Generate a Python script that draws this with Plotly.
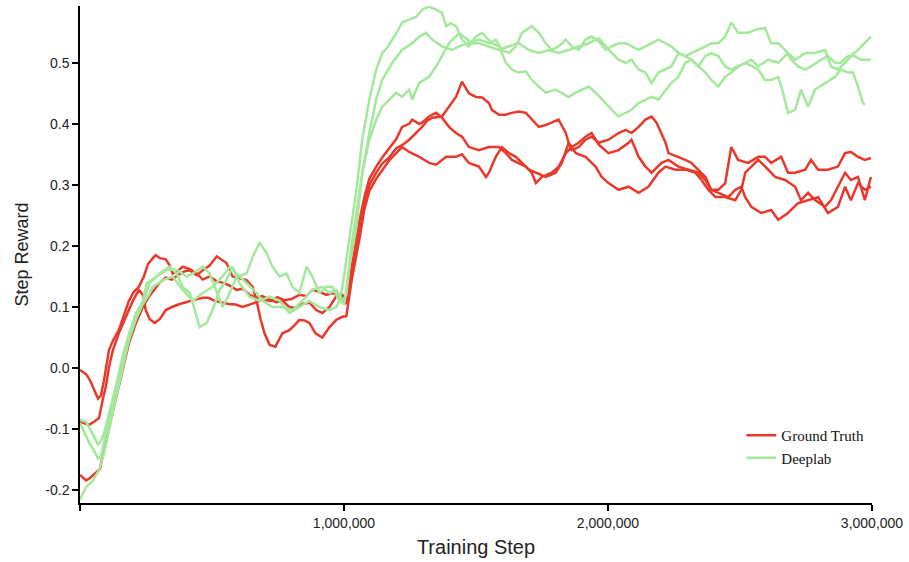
import plotly.graph_objects as go

# ---------------- data (training steps, step reward) ----------------
gt1_x = [0, 23000, 38000, 53000, 68000, 79000, 91000, 110000, 125000, 147000, 166000, 185000, 204000, 223000,
         242000, 257000, 276000, 287000, 302000, 325000, 340000, 351000, 366000, 389000, 416000, 442000, 465000,
         491000, 518000, 540000, 567000, 593000, 616000, 642000, 669000, 691000, 718000, 744000, 767000, 793000,
         820000, 842000, 869000, 895000, 918000, 945000, 971000, 994000, 1009000, 1031000, 1058000, 1077000,
         1096000, 1122000, 1145000, 1171000, 1198000, 1220000, 1247000, 1258000, 1285000, 1296000, 1322000,
         1349000, 1371000, 1398000, 1424000, 1447000, 1473000, 1511000, 1549000, 1587000, 1613000, 1636000,
         1662000, 1689000, 1711000, 1727000, 1749000, 1787000, 1813000, 1840000, 1863000, 1889000, 1915000,
         1938000, 1965000, 2002000, 2040000, 2078000, 2089000, 2116000, 2142000, 2165000, 2203000, 2229000,
         2267000, 2305000, 2342000, 2369000, 2391000, 2418000, 2444000, 2467000, 2493000, 2531000, 2569000,
         2595000, 2618000, 2656000, 2682000, 2709000, 2747000, 2769000, 2796000, 2833000, 2871000, 2898000,
         2920000, 2947000, 2973000, 2996000]
gt1_y = [-0.003, -0.010, -0.020, -0.035, -0.050, -0.045, -0.020, 0.030, 0.045, 0.062, 0.085, 0.110, 0.125, 0.133,
         0.150, 0.170, 0.180, 0.185, 0.180, 0.178, 0.168, 0.155, 0.158, 0.166, 0.162, 0.155, 0.145,
         0.150, 0.142, 0.140, 0.135, 0.128, 0.130, 0.120, 0.115, 0.118, 0.112, 0.108, 0.110, 0.100,
         0.098, 0.105, 0.107, 0.095, 0.090, 0.100, 0.118, 0.120, 0.105, 0.170, 0.240, 0.280,
         0.310, 0.330, 0.345, 0.360, 0.375, 0.395, 0.400, 0.407, 0.400, 0.402, 0.412,
         0.418, 0.410, 0.395, 0.385, 0.379, 0.362, 0.357, 0.362, 0.362, 0.352, 0.341,
         0.336, 0.330, 0.320, 0.303, 0.313, 0.320, 0.330, 0.352, 0.362, 0.369, 0.379,
         0.385, 0.366, 0.352, 0.357, 0.369, 0.374, 0.346, 0.330, 0.320, 0.336, 0.341,
         0.330, 0.325, 0.320, 0.308, 0.292, 0.292, 0.303, 0.362, 0.341, 0.336, 0.346,
         0.346, 0.336, 0.346, 0.320, 0.320, 0.325, 0.341, 0.325, 0.325, 0.330, 0.352,
         0.354, 0.346, 0.341, 0.344]

gt2_x = [0, 23000, 34000, 53000, 72000, 87000, 98000, 110000, 125000, 147000, 174000, 200000, 223000, 238000,
         249000, 264000, 283000, 302000, 325000, 348000, 378000, 400000, 434000, 465000, 487000, 510000, 536000,
         563000, 589000, 616000, 642000, 669000, 695000, 722000, 748000, 774000, 801000, 831000, 858000, 880000,
         907000, 933000, 956000, 982000, 1001000, 1020000, 1031000, 1058000, 1077000, 1096000, 1122000, 1145000,
         1171000, 1198000, 1220000, 1247000, 1273000, 1296000, 1315000, 1334000, 1371000, 1398000, 1424000,
         1447000, 1473000, 1500000, 1523000, 1549000, 1560000, 1587000, 1613000, 1636000, 1662000, 1689000,
         1711000, 1738000, 1764000, 1787000, 1813000, 1840000, 1851000, 1863000, 1889000, 1915000, 1938000,
         1965000, 2002000, 2040000, 2067000, 2089000, 2116000, 2142000, 2165000, 2184000, 2203000, 2218000,
         2229000, 2267000, 2293000, 2316000, 2342000, 2369000, 2391000, 2418000, 2456000, 2482000, 2505000,
         2520000, 2543000, 2580000, 2618000, 2645000, 2682000, 2720000, 2758000, 2796000, 2833000, 2871000,
         2898000, 2920000, 2947000, 2973000, 2996000]
gt2_y = [-0.088, -0.092, -0.093, -0.088, -0.082, -0.050, -0.030, 0.002, 0.030, 0.057, 0.084, 0.110, 0.128, 0.120,
         0.095, 0.080, 0.074, 0.080, 0.095, 0.100, 0.105, 0.108, 0.112, 0.115, 0.115, 0.110, 0.107,
         0.105, 0.104, 0.100, 0.104, 0.108, 0.112, 0.110, 0.116, 0.111, 0.113, 0.120, 0.118, 0.128,
         0.125, 0.120, 0.123, 0.118, 0.105, 0.130, 0.150, 0.220, 0.265, 0.300, 0.320, 0.335,
         0.345, 0.360, 0.365, 0.374, 0.385, 0.395, 0.405, 0.410, 0.412, 0.428, 0.444,
         0.469, 0.450, 0.444, 0.443, 0.434, 0.423, 0.415, 0.415, 0.418, 0.420, 0.418,
         0.407, 0.395, 0.398, 0.402, 0.407, 0.385, 0.369, 0.357, 0.362, 0.374, 0.379,
         0.369, 0.374, 0.385, 0.390, 0.385, 0.395, 0.407, 0.412, 0.402, 0.385, 0.369,
         0.352, 0.346, 0.341, 0.336, 0.325, 0.313, 0.292, 0.287, 0.280, 0.292, 0.297,
         0.280, 0.264, 0.254, 0.259, 0.243, 0.254, 0.270, 0.275, 0.280, 0.254, 0.264,
         0.297, 0.275, 0.303, 0.292, 0.297]

gt3_x = [0, 23000, 38000, 60000, 76000, 87000, 110000, 136000, 162000, 185000, 212000, 238000, 261000, 283000,
         302000, 325000, 348000, 370000, 393000, 416000, 442000, 465000, 491000, 518000, 536000, 555000, 578000,
         604000, 631000, 654000, 669000, 684000, 699000, 718000, 740000, 767000, 793000, 812000, 831000, 850000,
         869000, 892000, 918000, 945000, 971000, 994000, 1009000, 1031000, 1058000, 1077000, 1096000, 1122000,
         1145000, 1171000, 1198000, 1220000, 1247000, 1285000, 1322000, 1349000, 1387000, 1424000, 1447000,
         1473000, 1511000, 1538000, 1549000, 1575000, 1598000, 1625000, 1651000, 1674000, 1700000, 1727000,
         1764000, 1802000, 1825000, 1851000, 1878000, 1915000, 1953000, 1976000, 2002000, 2040000, 2078000,
         2116000, 2153000, 2191000, 2218000, 2255000, 2293000, 2331000, 2354000, 2380000, 2407000, 2444000,
         2482000, 2505000, 2520000, 2543000, 2569000, 2607000, 2633000, 2671000, 2709000, 2731000, 2758000,
         2784000, 2822000, 2845000, 2871000, 2898000, 2920000, 2947000, 2973000, 2996000]
gt3_y = [-0.175, -0.184, -0.180, -0.172, -0.165, -0.140, -0.097, -0.048, 0.002, 0.040, 0.074, 0.100, 0.117, 0.130,
         0.140, 0.148, 0.145, 0.152, 0.158, 0.160, 0.152, 0.160, 0.168, 0.183, 0.178, 0.172, 0.150,
         0.147, 0.144, 0.133, 0.110, 0.080, 0.057, 0.038, 0.035, 0.057, 0.062, 0.070, 0.079, 0.078,
         0.074, 0.057, 0.050, 0.067, 0.079, 0.084, 0.085, 0.150, 0.210, 0.260, 0.290, 0.310,
         0.325, 0.340, 0.352, 0.362, 0.354, 0.346, 0.336, 0.333, 0.346, 0.346, 0.350,
         0.336, 0.330, 0.313, 0.320, 0.346, 0.362, 0.352, 0.346, 0.336, 0.325, 0.320,
         0.313, 0.320, 0.336, 0.369, 0.352, 0.346, 0.330, 0.313, 0.303, 0.292, 0.297,
         0.287, 0.297, 0.320, 0.330, 0.325, 0.325, 0.320, 0.308, 0.292, 0.280, 0.280,
         0.275, 0.292, 0.320, 0.330, 0.341, 0.325, 0.313, 0.308, 0.297, 0.275, 0.287,
         0.275, 0.264, 0.275, 0.297, 0.320, 0.308, 0.313, 0.275, 0.313]

dl1_x = [0, 23000, 38000, 53000, 68000, 79000, 91000, 110000, 136000, 162000, 185000, 212000, 238000, 264000,
         302000, 340000, 366000, 389000, 416000, 442000, 453000, 480000, 502000, 529000, 555000, 578000, 604000,
         642000, 680000, 718000, 756000, 793000, 831000, 869000, 907000, 945000, 971000, 982000, 994000,
         1020000, 1047000, 1069000, 1096000, 1122000, 1145000, 1164000, 1183000, 1201000, 1220000, 1247000,
         1273000, 1296000, 1322000, 1349000, 1371000, 1387000, 1405000, 1424000, 1447000, 1473000, 1500000,
         1523000, 1560000, 1587000, 1613000, 1636000, 1662000, 1689000, 1711000, 1738000, 1764000, 1802000,
         1825000, 1851000, 1878000, 1900000, 1927000, 1953000, 1976000, 2002000, 2021000, 2040000, 2067000,
         2089000, 2116000, 2142000, 2165000, 2191000, 2218000, 2240000, 2267000, 2293000, 2316000, 2342000,
         2369000, 2391000, 2418000, 2444000, 2467000, 2493000, 2520000, 2543000, 2569000, 2595000, 2618000,
         2645000, 2663000, 2682000, 2709000, 2731000, 2758000, 2784000, 2822000, 2860000, 2882000, 2909000,
         2928000, 2947000, 2966000, 2973000]
dl1_y = [-0.085, -0.088, -0.100, -0.113, -0.125, -0.120, -0.107, -0.074, -0.030, 0.020, 0.055, 0.090, 0.108, 0.139,
         0.155, 0.166, 0.155, 0.133, 0.123, 0.084, 0.067, 0.074, 0.095, 0.128, 0.144, 0.166, 0.139,
         0.117, 0.110, 0.117, 0.110, 0.090, 0.100, 0.110, 0.100, 0.095, 0.100, 0.110, 0.133,
         0.210, 0.292, 0.374, 0.440, 0.489, 0.516, 0.525, 0.538, 0.550, 0.566, 0.570,
         0.575, 0.587, 0.592, 0.587, 0.582, 0.560, 0.565, 0.560, 0.538, 0.527, 0.543,
         0.549, 0.532, 0.527, 0.500, 0.489, 0.484, 0.486, 0.472, 0.461, 0.451, 0.456,
         0.451, 0.444, 0.451, 0.456, 0.461, 0.451, 0.440, 0.428, 0.420, 0.412, 0.418,
         0.423, 0.434, 0.440, 0.444, 0.440, 0.456, 0.467, 0.477, 0.500, 0.505, 0.494,
         0.511, 0.516, 0.511, 0.494, 0.489, 0.494, 0.500, 0.495, 0.489, 0.472, 0.472,
         0.477, 0.451, 0.418, 0.423, 0.456, 0.428, 0.456, 0.467, 0.477, 0.489, 0.484,
         0.484, 0.461, 0.434, 0.431]

dl2_x = [0, 23000, 38000, 53000, 68000, 79000, 91000, 110000, 136000, 162000, 185000, 212000, 238000, 253000,
         291000, 329000, 366000, 404000, 427000, 465000, 491000, 518000, 540000, 567000, 593000, 631000, 654000,
         680000, 706000, 729000, 756000, 782000, 805000, 831000, 858000, 880000, 907000, 933000, 956000, 982000,
         1001000, 1020000, 1047000, 1069000, 1096000, 1122000, 1145000, 1183000, 1220000, 1258000, 1285000,
         1311000, 1334000, 1371000, 1409000, 1436000, 1473000, 1511000, 1549000, 1575000, 1598000, 1625000,
         1651000, 1674000, 1711000, 1738000, 1764000, 1787000, 1813000, 1840000, 1863000, 1889000, 1915000,
         1938000, 1965000, 1991000, 2014000, 2040000, 2067000, 2089000, 2116000, 2142000, 2165000, 2191000,
         2218000, 2240000, 2267000, 2293000, 2316000, 2342000, 2369000, 2391000, 2418000, 2444000, 2467000,
         2493000, 2531000, 2558000, 2595000, 2618000, 2645000, 2671000, 2694000, 2720000, 2747000, 2769000,
         2807000, 2833000, 2860000, 2882000, 2909000, 2935000, 2958000, 2996000]
dl2_y = [-0.090, -0.110, -0.125, -0.135, -0.148, -0.145, -0.120, -0.085, -0.040, 0.010, 0.050, 0.085, 0.110, 0.139,
         0.150, 0.161, 0.161, 0.150, 0.155, 0.166, 0.155, 0.123, 0.100, 0.123, 0.150, 0.155, 0.182,
         0.205, 0.189, 0.166, 0.150, 0.155, 0.133, 0.123, 0.166, 0.150, 0.123, 0.133, 0.133, 0.110,
         0.105, 0.166, 0.231, 0.319, 0.385, 0.440, 0.472, 0.500, 0.521, 0.532, 0.543,
         0.549, 0.538, 0.527, 0.521, 0.527, 0.532, 0.538, 0.532, 0.538, 0.521, 0.516,
         0.527, 0.549, 0.560, 0.549, 0.532, 0.521, 0.527, 0.538, 0.527, 0.521, 0.538,
         0.543, 0.535, 0.521, 0.527, 0.532, 0.532, 0.527, 0.521, 0.527, 0.532, 0.538,
         0.532, 0.527, 0.516, 0.511, 0.516, 0.521, 0.527, 0.532, 0.532, 0.543, 0.566,
         0.549, 0.549, 0.554, 0.557, 0.532, 0.532, 0.521, 0.505, 0.494, 0.489, 0.494,
         0.505, 0.511, 0.500, 0.500, 0.511, 0.511, 0.505, 0.505]

dl3_x = [0, 23000, 49000, 72000, 91000, 110000, 136000, 162000, 185000, 212000, 238000, 261000, 276000, 314000,
         351000, 389000, 427000, 465000, 502000, 540000, 567000, 593000, 631000, 669000, 691000, 729000, 767000,
         805000, 842000, 880000, 918000, 945000, 971000, 994000, 1009000, 1028000, 1047000, 1069000, 1096000,
         1122000, 1145000, 1171000, 1198000, 1220000, 1247000, 1258000, 1285000, 1322000, 1349000, 1371000,
         1398000, 1436000, 1462000, 1485000, 1511000, 1549000, 1587000, 1625000, 1662000, 1700000, 1738000,
         1776000, 1813000, 1851000, 1889000, 1927000, 1965000, 1991000, 2014000, 2040000, 2067000, 2089000,
         2116000, 2142000, 2165000, 2191000, 2218000, 2240000, 2267000, 2293000, 2316000, 2342000, 2369000,
         2391000, 2418000, 2444000, 2467000, 2493000, 2520000, 2543000, 2569000, 2607000, 2645000, 2682000,
         2709000, 2747000, 2784000, 2822000, 2845000, 2871000, 2898000, 2920000, 2947000, 2973000, 2996000]
dl3_y = [-0.215, -0.195, -0.184, -0.167, -0.140, -0.100, -0.050, 0.000, 0.045, 0.080, 0.105, 0.120, 0.133, 0.144,
         0.150, 0.128, 0.110, 0.123, 0.133, 0.150, 0.166, 0.155, 0.139, 0.123, 0.110, 0.100, 0.100,
         0.095, 0.110, 0.128, 0.133, 0.123, 0.128, 0.110, 0.120, 0.200, 0.254, 0.319, 0.374,
         0.407, 0.428, 0.440, 0.451, 0.444, 0.456, 0.440, 0.467, 0.477, 0.494, 0.511,
         0.532, 0.549, 0.540, 0.532, 0.532, 0.527, 0.521, 0.527, 0.532, 0.521, 0.516,
         0.521, 0.516, 0.521, 0.527, 0.532, 0.540, 0.527, 0.516, 0.505, 0.500, 0.505,
         0.489, 0.484, 0.467, 0.484, 0.489, 0.494, 0.516, 0.511, 0.505, 0.494, 0.484,
         0.472, 0.461, 0.477, 0.484, 0.494, 0.500, 0.505, 0.494, 0.505, 0.500, 0.516,
         0.505, 0.516, 0.516, 0.521, 0.494, 0.489, 0.500, 0.511, 0.521, 0.532, 0.543]

x_tick_vals = [0, 1000000, 2000000, 3000000]
x_tick_text = ["", "1,000,000", "2,000,000", "3,000,000"]
y_tick_vals = [-0.2, -0.1, 0.0, 0.1, 0.2, 0.3, 0.4, 0.5]
y_tick_text = ["-0.2", "-0.1", "0.0", "0.1", "0.2", "0.3", "0.4", "0.5"]

series = [
    ("Ground Truth", "#e8392b", gt1_x, gt1_y, True),
    ("Ground Truth", "#e8392b", gt2_x, gt2_y, False),
    ("Ground Truth", "#e8392b", gt3_x, gt3_y, False),
    ("Deeplab", "#a3e89b", dl1_x, dl1_y, True),
    ("Deeplab", "#a3e89b", dl2_x, dl2_y, False),
    ("Deeplab", "#a3e89b", dl3_x, dl3_y, False),
]

fig = go.Figure()
for name, color, xs, ys, show in series:
    fig.add_trace(go.Scatter(
        x=xs, y=ys, mode="lines", name=name, legendgroup=name, showlegend=show,
        line=dict(color=color, width=2.5),
        hoverinfo="skip",
    ))

fig.update_layout(
    width=909, height=562,
    paper_bgcolor="white", plot_bgcolor="white",
    margin=dict(l=80, r=35, t=6, b=59),
    font=dict(family="Liberation Sans, Arial, sans-serif", color="#222222"),
    legend=dict(
        x=0.835, y=0.169, xanchor="left", yanchor="top",
        bgcolor="rgba(0,0,0,0)",
        font=dict(family="Liberation Serif, Times New Roman, serif", size=15, color="#111111"),
        itemwidth=30, tracegroupgap=0,
    ),
    showlegend=True,
)

fig.update_xaxes(
    range=[0, 3000000], showgrid=False, zeroline=False,
    showline=True, linecolor="black", linewidth=1.5,
    ticks="outside", ticklen=6, tickcolor="black", tickwidth=1.5,
    tickvals=x_tick_vals, ticktext=x_tick_text,
    tickfont=dict(size=14, color="#222222"),
    title=dict(text="Training Step", font=dict(size=20, color="#222222"), standoff=10),
)
fig.update_yaxes(
    range=[-0.221, 0.593], showgrid=False, zeroline=False,
    showline=True, linecolor="black", linewidth=1.5,
    ticks="outside", ticklen=6, tickcolor="black", tickwidth=1.5,
    tickvals=y_tick_vals, ticktext=y_tick_text,
    tickfont=dict(size=14, color="#222222"),
    title=dict(text="Step Reward", font=dict(size=18, color="#222222"), standoff=12),
)

fig.write_html(
    "out.html",
    config={"displayModeBar": False},
    post_script="document.body.style.margin='0';document.body.style.overflow='hidden';",
)
